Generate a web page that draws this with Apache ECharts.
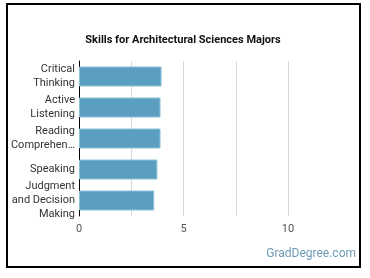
<!DOCTYPE html>
<html>
<head>
<meta charset="utf-8">
<script src="https://cdn.jsdelivr.net/npm/echarts@6/dist/echarts.min.js"></script>
<style>
  html, body { margin: 0; padding: 0; background: #fff; }
  #main { width: 370px; height: 278px; }
</style>
</head>
<body>
<div id="main"></div>
<script>
// skills, top to bottom
var skills = ['Critical\nThinking', 'Active\nListening', 'Reading\nComprehen…', 'Speaking', 'Judgment\nand Decision\nMaking'];
var scores = [3.95, 3.9, 3.9, 3.75, 3.6];
var xTicks = [0, 5, 10];

var chart = echarts.init(document.getElementById('main'));

var option = {
  animation: false,
  title: {
    text: 'Skills for Architectural Sciences Majors',
    left: 178,
    top: 30,
    textAlign: 'center',
    textStyle: {
      fontFamily: 'Roboto',
      fontSize: 11,
      fontWeight: 'bold',
      color: '#111'
    }
  },
  graphic: [
    {
      type: 'rect',
      shape: { x: 7, y: 4, width: 353, height: 263 },
      style: { fill: 'none', stroke: '#000', lineWidth: 2 }
    },
    {
      type: 'text',
      right: 14,
      top: 248,
      style: {
        text: 'GradDegree.com',
        fontFamily: 'Roboto',
        fontSize: 12,
        fill: '#6f9ab6'
      }
    }
  ],
  grid: {
    left: 79,
    right: 82,
    top: 61,
    bottom: 62
  },
  xAxis: {
    type: 'value',
    min: 0,
    max: 10,
    interval: 2.5,
    axisLine: { show: false },
    axisTick: { show: false },
    splitLine: { lineStyle: { color: '#d9d9d9', width: 1 } },
    axisLabel: {
      margin: 8,
      fontFamily: 'Roboto',
      fontSize: 11,
      color: '#555',
      formatter: function (v) {
        return xTicks.indexOf(v) >= 0 ? String(v) : '';
      }
    }
  },
  yAxis: {
    type: 'category',
    inverse: true,
    data: skills,
    axisLine: { show: true, lineStyle: { color: '#000', width: 1 } },
    axisTick: { show: false },
    axisLabel: {
      margin: 4,
      fontFamily: 'Roboto',
      fontSize: 11,
      lineHeight: 14,
      color: '#333',
      align: 'right'
    }
  },
  series: [{
    type: 'bar',
    data: scores,
    barWidth: 20,
    itemStyle: {
      color: '#5a9fbf',
      borderColor: '#8cc2d8',
      borderWidth: 1
    }
  }]
};

chart.setOption(option);
</script>
</body>
</html>
